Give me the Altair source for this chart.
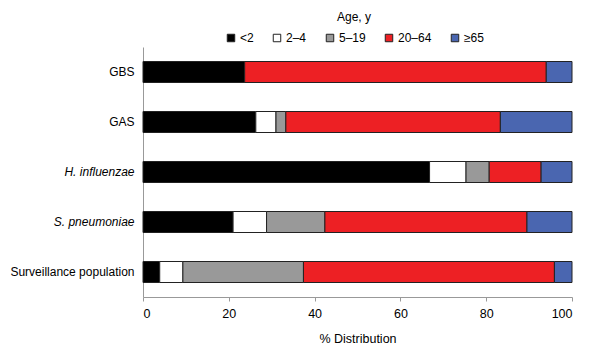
import altair as alt
import pandas as pd

pathogens = ["GBS", "GAS", "H. influenzae", "S. pneumoniae", "Surveillance population"]
age_groups = ["<2", "2–4", "5–19", "20–64", "≥65"]
colors = ["#000000", "#ffffff", "#999999", "#ed2024", "#4a66b0"]

lt2 = [23.7, 26.3, 66.8, 21.0, 3.9]
a2_4 = [0.0, 4.7, 8.5, 7.8, 5.4]
a5_19 = [0.0, 2.3, 5.4, 13.6, 28.1]
a20_64 = [70.3, 50.0, 12.1, 47.1, 58.5]
ge65 = [6.0, 16.7, 7.2, 10.5, 4.1]

series = [lt2, a2_4, a5_19, a20_64, ge65]
rows = []
for gi, (g, vals) in enumerate(zip(age_groups, series)):
    for p, v in zip(pathogens, vals):
        rows.append({"pathogen": p, "age": g, "idx": gi, "pct": v})
df = pd.DataFrame(rows)

italic_test = "datum.value == 'H. influenzae' || datum.value == 'S. pneumoniae'"

chart = alt.Chart(df).mark_bar(stroke="#222222", strokeWidth=1).encode(
    y=alt.Y("pathogen:N", sort=pathogens, title=None,
            scale=alt.Scale(paddingInner=0.58, paddingOuter=0.29),
            axis=alt.Axis(ticks=False, domainColor="#999999", labelPadding=9,
                          labelFontSize=12, labelColor="#000000",
                          labelFontStyle={"condition": {"test": italic_test, "value": "italic"}, "value": "normal"})),
    x=alt.X("pct:Q", stack="zero", title="% Distribution",
            scale=alt.Scale(domain=[0, 100], nice=False),
            axis=alt.Axis(values=[0, 20, 40, 60, 80, 100], grid=False, domainColor="#999999",
                          tickColor="#999999", tickSize=4, labelFontSize=12.5, labelColor="#000000",
                          labelPadding=6, titleFontSize=12.5, titleFontWeight="normal",
                          titlePadding=13, titleColor="#000000")),
    color=alt.Color("age:N", sort=age_groups,
                    scale=alt.Scale(domain=age_groups, range=colors),
                    legend=alt.Legend(title="Age, y", orient="none", direction="horizontal",
                                      legendX=82, legendY=-35, titleAnchor="middle",
                                      titleFontSize=12, titleFontWeight="normal", titleColor="#000000",
                                      titlePadding=8, labelFontSize=12, labelColor="#000000",
                                      symbolType="square", symbolSize=56, symbolStrokeColor="#222222",
                                      symbolStrokeWidth=1, symbolOpacity=1, labelOffset=3,
                                      columnPadding=17, padding=0)),
    order=alt.Order("idx:Q"),
).properties(
    width=429, height=250,
    autosize=alt.AutoSizeParams(type="none"),
    padding={"left": 143, "top": 47, "right": 28, "bottom": 53},
).configure(
    font="Liberation Sans",
).configure_view(
    stroke=None,
)

chart.save("out.html", embed_options={"renderer": "svg", "actions": False})
